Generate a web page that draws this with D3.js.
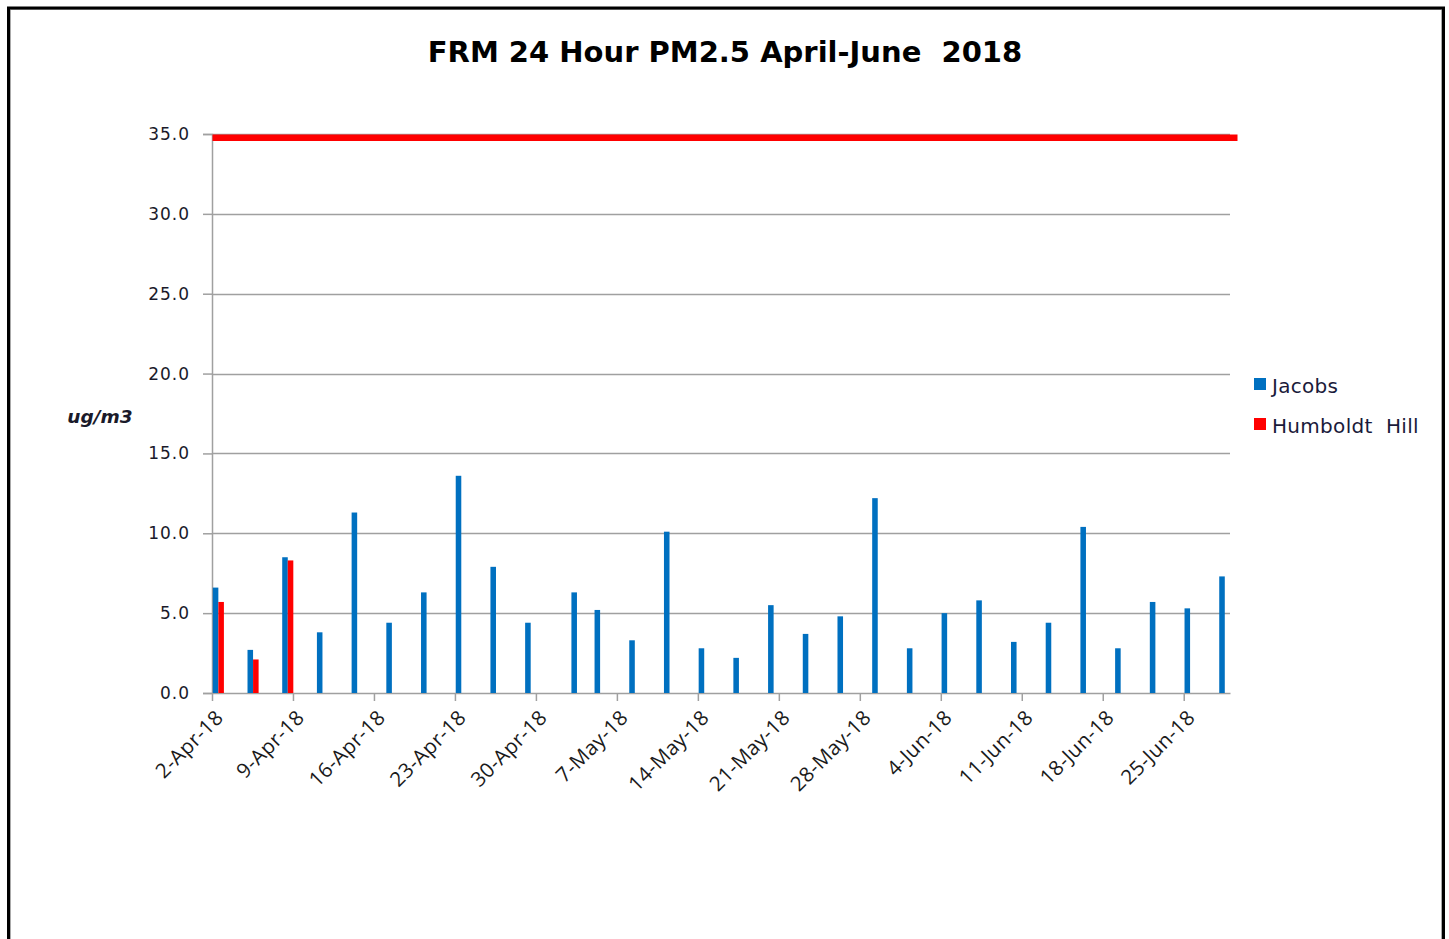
<!DOCTYPE html>
<html>
<head>
<meta charset="utf-8">
<script src="https://cdn.jsdelivr.net/npm/d3@7"></script>
<style>
  html, body { margin: 0; padding: 0; background: #fff; }
  svg { display: block; }
</style>
</head>
<body>
<svg id="chart" width="1449" height="939"></svg>
<script>
// ---- Data ----
const jacobsDates = ["2018-04-02","2018-04-05","2018-04-08","2018-04-11","2018-04-14","2018-04-17","2018-04-20","2018-04-23","2018-04-26","2018-04-29",
  "2018-05-03","2018-05-05","2018-05-08","2018-05-11","2018-05-14","2018-05-17","2018-05-20","2018-05-23","2018-05-26","2018-05-29",
  "2018-06-01","2018-06-04","2018-06-07","2018-06-10","2018-06-13","2018-06-16","2018-06-19","2018-06-22","2018-06-25","2018-06-28"];
const jacobsValues = [6.6, 2.7, 8.5, 3.8, 11.3, 4.4, 6.3, 13.6, 7.9, 4.4,
  6.3, 5.2, 3.3, 10.1, 2.8, 2.2, 5.5, 3.7, 4.8, 12.2,
  2.8, 5.0, 5.8, 3.2, 4.4, 10.4, 2.8, 5.7, 5.3, 7.3];
const humboldtDates = ["2018-04-02","2018-04-05","2018-04-08"];
const humboldtValues = [5.7, 2.1, 8.3];
const standardValue = 35;
const xTickDates = ["2018-04-02","2018-04-09","2018-04-16","2018-04-23","2018-04-30","2018-05-07","2018-05-14",
  "2018-05-21","2018-05-28","2018-06-04","2018-06-11","2018-06-18","2018-06-25"];
const yTickValues = [0, 5, 10, 15, 20, 25, 30, 35];
const seriesNames = ["Jacobs", "Humboldt  Hill"];
const seriesColors = ["#0070C0", "#FF0000"];
const xDomain = ["2018-04-02", "2018-06-29"];
const titleText = "FRM 24 Hour PM2.5 April-June  2018";
const yAxisTitle = "ug/m3";

// ---- Setup ----
const parse = d3.utcParse("%Y-%m-%d");
const fmt = d3.utcFormat("%-d-%b-%y");
const svg = d3.select("#chart");
const L = 212, R = 1230, T = 134, B = 693;

const x = d3.scaleUtc().domain(xDomain.map(parse)).range([L, R]);
const y = d3.scaleLinear().domain([0, 35]).range([B, T]);

// background + frame
svg.append("rect").attr("x", 0).attr("y", 0).attr("width", 1449).attr("height", 939).attr("fill", "#fff");
svg.append("rect").attr("x", 10.5).attr("y", 9.5).attr("width", 1431).attr("height", 960)
  .attr("fill", "none").attr("stroke", "#aaa").attr("stroke-width", 1);
svg.append("rect").attr("x", 8.5).attr("y", 8).attr("width", 1435).attr("height", 960)
  .attr("fill", "none").attr("stroke", "#000").attr("stroke-width", 3);

// title
svg.append("text").attr("x", 725).attr("y", 62).attr("text-anchor", "middle")
  .attr("font-family", "DejaVu Sans").attr("font-weight", "bold").attr("font-size", 29)
  .attr("fill", "#000").style("white-space", "pre").text(titleText);

// gridlines
svg.append("g").selectAll("line").data(yTickValues.filter(v => v > 0)).join("line")
  .attr("x1", L).attr("x2", R).attr("y1", d => Math.round(y(d)) + 0.5).attr("y2", d => Math.round(y(d)) + 0.5)
  .attr("stroke", "#a0a0a0").attr("stroke-width", 1.5);

// y axis
const yAxis = d3.axisLeft(y).tickValues(yTickValues).tickFormat(d3.format(".1f")).tickSize(9).tickPadding(13);
const gy = svg.append("g").attr("transform", `translate(${L},0)`).call(yAxis);
gy.select(".domain").attr("stroke", "#a0a0a0").attr("stroke-width", 1.5);
gy.selectAll(".tick line").attr("stroke", "#a0a0a0").attr("stroke-width", 1.5);
gy.selectAll(".tick text").attr("font-family", "DejaVu Sans").attr("font-size", 17)
  .attr("letter-spacing", 1).attr("fill", "#1a1a2a");

// x axis
const xAxis = d3.axisBottom(x).tickValues(xTickDates.map(parse)).tickFormat(fmt).tickSize(8).tickSizeOuter(0);
const gx = svg.append("g").attr("transform", `translate(0,${B})`).call(xAxis);
gx.select(".domain").attr("stroke", "#a0a0a0").attr("stroke-width", 1.5);
gx.selectAll(".tick line").attr("stroke", "#a0a0a0").attr("stroke-width", 1.5);
gx.selectAll(".tick text")
  .attr("font-family", "Open Sans").attr("font-size", 20.5).attr("letter-spacing", 0.4).attr("fill", "#1a1a1a")
  .attr("text-anchor", "end").attr("dy", null).attr("y", 0)
  .attr("transform", "translate(12,26) rotate(-45)");

// bars
const dayW = x(parse("2018-04-03")) - x(parse("2018-04-02"));
const barW = dayW * 0.48;
const jacobs = jacobsDates.map((d, i) => ({ date: parse(d), value: jacobsValues[i] }));
const humboldt = humboldtDates.map((d, i) => ({ date: parse(d), value: humboldtValues[i] }));

svg.append("g").selectAll("rect").data(jacobs).join("rect")
  .attr("x", d => x(d.date) + 0.8).attr("width", barW)
  .attr("y", d => y(d.value)).attr("height", d => y(0) - y(d.value))
  .attr("fill", seriesColors[0]);
svg.append("g").selectAll("rect").data(humboldt).join("rect")
  .attr("x", d => x(d.date) + 0.8 + barW).attr("width", barW)
  .attr("y", d => y(d.value)).attr("height", d => y(0) - y(d.value))
  .attr("fill", seriesColors[1]);

// standard line
svg.append("rect").attr("x", L + 0.5).attr("width", (R + 7) - L)
  .attr("y", y(standardValue) + 0.5).attr("height", 6.5)
  .attr("fill", "#FF0000");

// y-axis title
svg.append("text").attr("x", 100).attr("y", 423).attr("text-anchor", "middle")
  .attr("font-family", "DejaVu Sans").attr("font-weight", "bold").attr("font-style", "italic")
  .attr("font-size", 18.5).attr("fill", "#1a1a2a").text(yAxisTitle);

// legend
const lg = svg.append("g");
seriesNames.forEach((name, i) => {
  const ly = 378 + i * 40;
  lg.append("rect").attr("x", 1254).attr("y", ly).attr("width", 12).attr("height", 12).attr("fill", seriesColors[i]);
  lg.append("text").attr("x", 1272).attr("y", ly + 15).attr("font-family", "DejaVu Sans")
    .attr("font-size", 20).attr("letter-spacing", 0.3).attr("fill", "#1a1a3a").style("white-space", "pre").text(name);
});
</script>
</body>
</html>
